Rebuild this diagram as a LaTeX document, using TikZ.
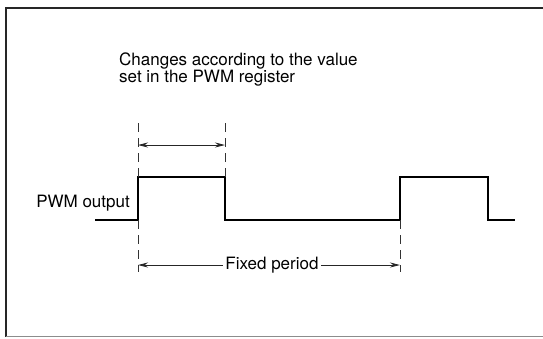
\documentclass[tikz,border=0pt]{standalone}
\usepackage{fontspec}
\setmainfont{TeX Gyre Heros}
\usetikzlibrary{arrows.meta,calc}
\tikzset{
  frame/.style = {line width=1.8pt, black!85},
  wave/.style  = {line width=2.8pt, black, line join=miter},
  guide/.style = {line width=0.8pt, black!80, dash pattern=on 9pt off 6pt},
  dim/.style   = {line width=0.9pt, black!85},
  lbl/.style   = {font=\fontsize{17}{16.5}\selectfont, inner sep=0pt, align=left},
}

\begin{document}
\begin{tikzpicture}[x=1pt, y=-1pt, >={Stealth[length=10pt,width=5pt]}]

  \useasboundingbox (0,0) rectangle (543,338);

  % border (open on the right)
  \draw[frame] (543,8) -- (6,8) -- (6,336.5);
  \draw[frame, black!45] (6,336.5) -- (543,336.5);

  % waveform corners
  \coordinate (s0)  at (95,220);
  \coordinate (r1)  at (138,220);
  \coordinate (r1h) at (138,177);
  \coordinate (f1h) at (225,177);
  \coordinate (f1)  at (225,220);
  \coordinate (r2)  at (400,220);
  \coordinate (r2h) at (400,177);
  \coordinate (f2h) at (488,177);
  \coordinate (f2)  at (488,220);
  \coordinate (s1)  at (515,220);

  \draw[wave] (s0) -- (r1) -- (r1h) -- (f1h) -- (f1) -- (r2) -- (r2h) -- (f2h) -- (f2) -- (s1);

  % extension lines
  \coordinate (gt1) at (138,123);
  \coordinate (gt2) at (225,123);
  \coordinate (gb1) at (138,272);
  \coordinate (gb2) at (400,272);
  \draw[guide] (gt1) -- (r1h);
  \draw[guide] (gt2) -- (f1h);
  \draw[guide] (r1) -- (gb1);
  \draw[guide] (r2) -- (gb2);

  % labels
  \node[lbl, anchor=base west] (note) at (119,82)
       {Changes according to the value\\set in the PWM register};
  \node[lbl, anchor=base east] (pwm) at (130,207) {PWM output};
  \node[lbl, inner sep=2.5pt] (period) at (272,265) {Fixed period};

  % dimension arrows
  \coordinate (wa) at (138,145);
  \coordinate (wb) at (225,145);
  \draw[dim, <->] (wa) -- (wb);

  \coordinate (pa) at (138,265);
  \coordinate (pb) at (400,265);
  \draw[dim, <-] (pa) -- (period.west);
  \draw[dim, ->] (period.east) -- (pb);

\end{tikzpicture}
\end{document}
